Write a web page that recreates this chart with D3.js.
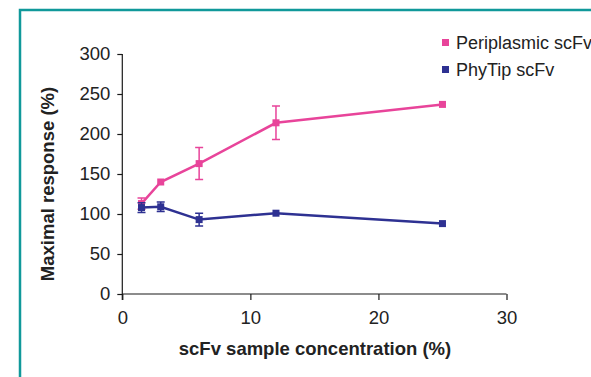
<!DOCTYPE html>
<html lang="en">
<head>
<meta charset="utf-8">
<title>Maximal response</title>
<script src="https://cdn.jsdelivr.net/npm/d3@7"></script>
<style>
  body { margin: 0; background: #fff; }
  svg { display: block; font-family: "Liberation Sans", Arial, sans-serif; }
  .axis path, .axis line { stroke: #1a1a1a; stroke-width: 1.2; fill: none; }
  .title { font-size: 18.5px; font-weight: bold; fill: #222; }
  .legend text { font-size: 18px; fill: #222; }
</style>
</head>
<body>
<script>
// concentrations (%)
var conc = [1.5, 3, 6, 12, 25];
var periplasmic = [113, 140, 163, 214, 237];
var periplasmicErr = [7, 0, 20, 21, 0];
var phytip = [108, 109, 93, 101, 88];
var phytipErr = [6, 6, 8, 0, 0];

var xTicks = [0, 10, 20, 30];
var yTicks = [0, 50, 100, 150, 200, 250, 300];

var series = [
  { name: "Periplasmic scFv", color: "#e8449a", y: periplasmic, err: periplasmicErr },
  { name: "PhyTip scFv", color: "#2e3192", y: phytip, err: phytipErr }
];

var w = 591, h = 377;
var svg = d3.select("body").append("svg").attr("width", w).attr("height", h);

// teal frame
svg.append("path")
  .attr("d", "M20," + h + "V10H" + w)
  .attr("fill", "none")
  .attr("stroke", "#10999a")
  .attr("stroke-width", 2.5);

var xScale = d3.scaleLinear().domain([0, 30]).range([122.3, 506.5]);
var yScale = d3.scaleLinear().domain([0, 300]).range([294, 54]);

function styleTicks(g) {
  g.selectAll("text")
    .attr("font-size", 18.5)
    .attr("font-family", "'Liberation Sans', Arial, sans-serif")
    .attr("fill", "#222");
}

svg.append("g")
  .attr("class", "axis")
  .attr("transform", "translate(0," + yScale(0) + ")")
  .call(d3.axisBottom(xScale).tickValues(xTicks).tickSize(6).tickSizeOuter(0).tickPadding(11))
  .call(function(g) { g.select(".domain").attr("d", "M" + xScale(0) + ",0H" + xScale(30)); })
  .call(styleTicks);

svg.append("g")
  .attr("class", "axis")
  .attr("transform", "translate(" + xScale(0) + ",0)")
  .call(d3.axisLeft(yScale).tickValues(yTicks).tickSize(5).tickSizeOuter(0).tickPadding(7))
  .call(function(g) { g.select(".domain").attr("d", "M0," + yScale(300) + "V" + (yScale(0) + 6)); })
  .call(styleTicks);

// axis titles
svg.append("text")
  .attr("class", "title")
  .attr("x", 315).attr("y", 355)
  .attr("text-anchor", "middle")
  .text("scFv sample concentration (%)");

svg.append("text")
  .attr("class", "title")
  .attr("transform", "translate(54,184) rotate(-90)")
  .attr("text-anchor", "middle")
  .text("Maximal response (%)");

var line = d3.line()
  .x(function(d) { return xScale(d[0]); })
  .y(function(d) { return yScale(d[1]); });

series.forEach(function(s) {
  var pts = conc.map(function(c, i) { return [c, s.y[i], s.err[i]]; });
  var g = svg.append("g");

  // error bars
  pts.filter(function(d) { return d[2] > 0; }).forEach(function(d) {
    var x = xScale(d[0]);
    g.append("path")
      .attr("d", "M" + x + "," + yScale(d[1] - d[2]) + "V" + yScale(d[1] + d[2]) +
        "M" + (x - 4) + "," + yScale(d[1] - d[2]) + "h8" +
        "M" + (x - 4) + "," + yScale(d[1] + d[2]) + "h8")
      .attr("stroke", s.color)
      .attr("stroke-width", 1.5)
      .attr("fill", "none");
  });

  g.append("path")
    .datum(pts)
    .attr("d", line)
    .attr("fill", "none")
    .attr("stroke", s.color)
    .attr("stroke-width", 2.5);

  g.selectAll("rect")
    .data(pts)
    .enter()
    .append("rect")
    .attr("x", function(d) { return xScale(d[0]) - 3.5; })
    .attr("y", function(d) { return yScale(d[1]) - 3.5; })
    .attr("width", 7)
    .attr("height", 7)
    .attr("fill", s.color);
});

// legend
var legend = svg.append("g").attr("class", "legend");
series.forEach(function(s, i) {
  var y = 42.5 + i * 27;
  legend.append("rect")
    .attr("x", 442).attr("y", y - 3.5).attr("width", 7).attr("height", 7)
    .attr("fill", s.color);
  legend.append("text")
    .attr("x", 456).attr("y", y + 6)
    .text(s.name);
});
</script>
</body>
</html>
